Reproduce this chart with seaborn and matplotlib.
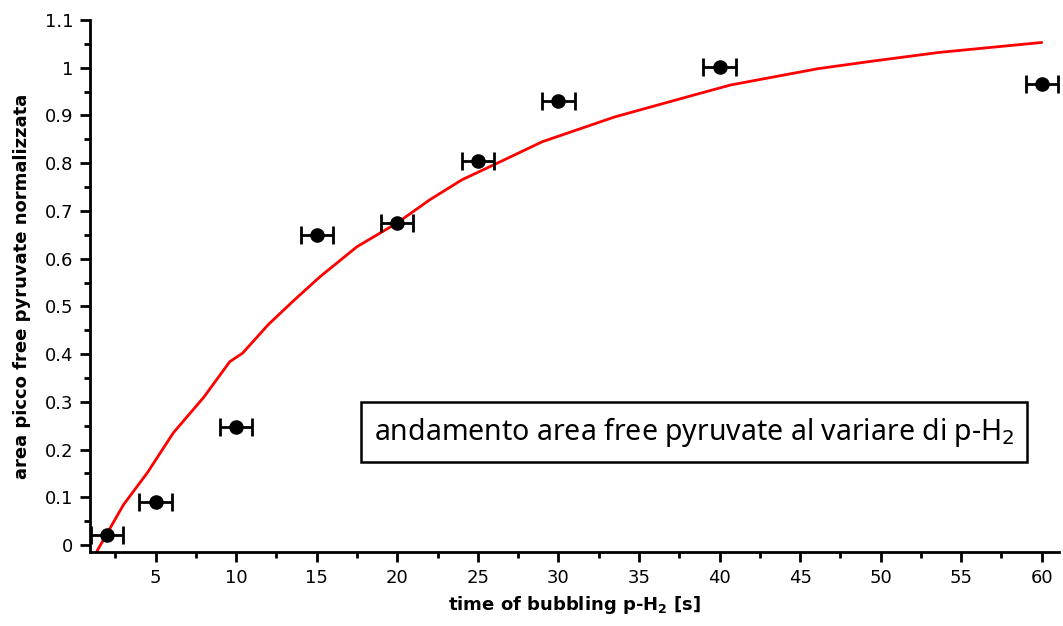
import numpy as np
import pandas as pd
import matplotlib
matplotlib.use("Agg")
import matplotlib.pyplot as plt
import seaborn as sns

# measured points
time_s = [2, 5, 10, 15, 20, 25, 30, 40, 60]
area_norm = [0.021, 0.090, 0.248, 0.650, 0.674, 0.805, 0.930, 1.001, 0.966]
time_err = [1, 1, 1, 1, 1, 1, 1, 1, 1]

# fitted curve
fit_x = [1.36, 3.0, 4.5, 6.1, 8.0, 9.6, 10.4, 12.0, 13.6, 15.2, 17.5, 20.0,
         22.0, 24.0, 26.2, 29.0, 33.5, 38.1, 40.7, 46.1, 49.3, 53.6, 60.0]
fit_y = [-0.013, 0.084, 0.152, 0.235, 0.310, 0.384, 0.402, 0.462, 0.513, 0.562,
         0.625, 0.675, 0.723, 0.765, 0.800, 0.845, 0.897, 0.940, 0.964, 0.998,
         1.013, 1.032, 1.053]

x_ticks = [5, 10, 15, 20, 25, 30, 35, 40, 45, 50, 55, 60]
y_ticks = [0, 0.1, 0.2, 0.3, 0.4, 0.5, 0.6, 0.7, 0.8, 0.9, 1, 1.1]
y_tick_labels = ["0", "0.1", "0.2", "0.3", "0.4", "0.5", "0.6", "0.7", "0.8", "0.9", "1", "1.1"]

sns.set_style("ticks", rc={"axes.edgecolor": "black", "xtick.color": "black",
                           "ytick.color": "black", "text.color": "black",
                           "axes.labelcolor": "black"})
plt.rcParams['font.family'] = ['DejaVu Sans']

fig = plt.figure(figsize=(10.63, 6.26), dpi=100)
ax = fig.add_axes([0.0847, 0.118, 0.912, 0.850])

fit_df = pd.DataFrame({"x": fit_x, "y": fit_y})
pts_df = pd.DataFrame({"x": time_s, "y": area_norm})

sns.lineplot(data=fit_df, x="x", y="y", ax=ax, color="#ff0000", linewidth=2,
             sort=False, estimator=None, zorder=2)
ax.errorbar(time_s, area_norm, xerr=time_err, fmt="none", ecolor="black",
            elinewidth=2, capsize=6.5, capthick=2, zorder=3)
sns.scatterplot(data=pts_df, x="x", y="y", ax=ax, color="black", s=110,
                edgecolor="black", linewidth=0, zorder=4)

ax.set_xlim(0.93, 61.1)
ax.set_ylim(-0.015, 1.1)
ax.set_xticks(x_ticks)
ax.set_xticks(np.arange(2.5, 61, 5), minor=True)
ax.set_yticks(y_ticks)
ax.set_yticklabels(y_tick_labels)
ax.set_yticks(np.arange(0.05, 1.1, 0.1), minor=True)

for s in ["top", "right"]:
    ax.spines[s].set_visible(False)
for s in ["left", "bottom"]:
    ax.spines[s].set_linewidth(2)
    ax.spines[s].set_color("black")

ax.tick_params(axis="both", which="major", direction="out", length=7, width=2,
               labelsize=13, pad=5, colors="black")
ax.tick_params(axis="both", which="minor", direction="out", length=4, width=2,
               colors="black")

ax.set_xlabel(r"time of bubbling p-H$_{\mathbf{2}}$ [s]", fontsize=13,
              fontweight="bold", labelpad=5, color="black")
ax.set_ylabel("area picco free pyruvate normalizzata", fontsize=13,
              fontweight="bold", labelpad=10, color="black")

ax.text(0.623, 0.226, r"andamento area free pyruvate al variare di p-H$_2$",
        transform=ax.transAxes, fontsize=20.5, ha="center", va="center",
        family=["Noto Sans", "DejaVu Sans"], color="black",
        bbox=dict(boxstyle="square,pad=0.45", facecolor="white",
                  edgecolor="black", linewidth=1.8), zorder=5)

ax.set_facecolor("white")
fig.patch.set_facecolor("white")
fig.savefig("out.png", dpi=100)
